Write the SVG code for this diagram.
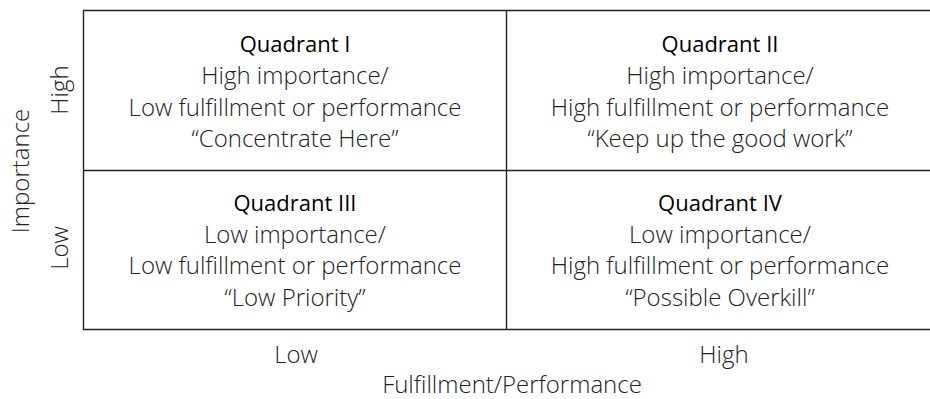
<svg xmlns="http://www.w3.org/2000/svg" width="930" height="399" viewBox="0 0 930 399">
<style>
.t{font-family:"Open Sans","Liberation Sans",sans-serif;font-size:24px;font-weight:300;fill:#222;text-anchor:middle}
.h{font-family:"Open Sans","Liberation Sans",sans-serif;font-size:22px;font-weight:400;fill:#000;text-anchor:middle}
.ln{stroke:#222;stroke-width:1.4;fill:none}
</style>
<rect width="930" height="399" fill="#fff"/>
<g id="connectors">
<path class="ln" d="M83,10.5H930M83,170.5H930M83,329.5H930M83.5,10V330M506.5,10V330"/>
</g>
<g id="q1">
<text class="h" x="295" y="52">Quadrant I</text>
<text class="t" x="295" y="84">High importance/</text>
<text class="t" x="295" y="116">Low fulfillment or performance</text>
<text class="t" x="295" y="147">“Concentrate Here”</text>
</g>
<g id="q2">
<text class="h" x="720" y="52">Quadrant II</text>
<text class="t" x="720" y="84">High importance/</text>
<text class="t" x="720" y="116">High fulfillment or performance</text>
<text class="t" x="720" y="147">“Keep up the good work”</text>
</g>
<g id="q3">
<text class="h" x="295" y="211">Quadrant III</text>
<text class="t" x="295" y="243">Low importance/</text>
<text class="t" x="295" y="274">Low fulfillment or performance</text>
<text class="t" x="295" y="306">“Low Priority”</text>
</g>
<g id="q4">
<text class="h" x="720" y="211">Quadrant IV</text>
<text class="t" x="720" y="243">Low importance/</text>
<text class="t" x="720" y="274">High fulfillment or performance</text>
<text class="t" x="720" y="306">“Possible Overkill”</text>
</g>
<g id="axes">
<text class="t" x="296" y="363">Low</text>
<text class="t" x="724" y="363">High</text>
<text class="t" x="512" y="393">Fulfillment/Performance</text>
<text class="t" transform="translate(29,171) rotate(-90)">Importance</text>
<text class="t" transform="translate(68,90) rotate(-90)">High</text>
<text class="t" transform="translate(68,248) rotate(-90)">Low</text>
</g>
</svg>
